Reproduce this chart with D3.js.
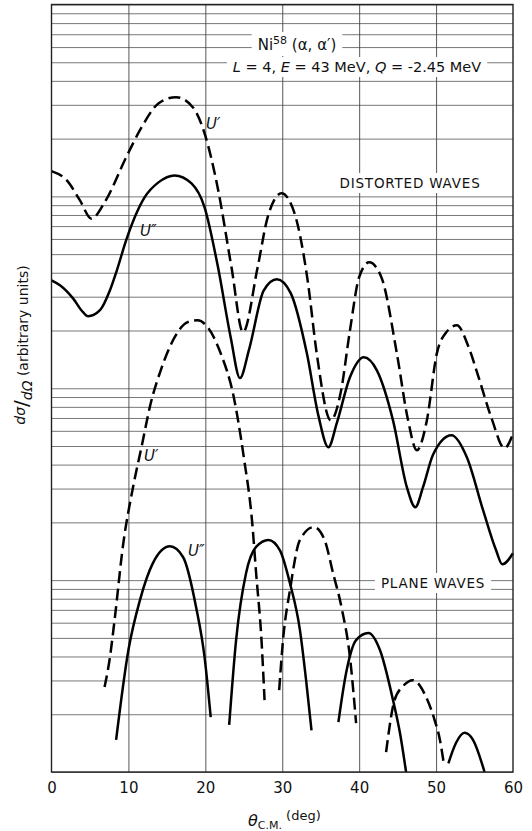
<!DOCTYPE html>
<html><head><meta charset="utf-8">
<script src="https://cdn.jsdelivr.net/npm/d3@7"></script>
<style>body{margin:0;background:#fff}</style>
</head><body><svg id="c" width="532" height="831"></svg>
<script>
// ---------- data (theta in deg, dσ/dΩ arbitrary units) ----------
const xTicks = [0, 10, 20, 30, 40, 50, 60];
const yDecades = [1, 10, 100, 1000];
const gridMultipliers = [1, 2, 3, 4, 5, 6, 7, 8, 9];

// Distorted waves, U' (dashed)
const dwUprime = [[0,1355],[2.0,1211],[3.7,953],[5.2,765],[6.9,930],[9.7,1596],[11.7,2287],[13.9,3050],[16.2,3290],[18.4,2908],[19.9,2130],[21.6,1114],[23.4,427],[24.9,196],[26.8,427],[28.1,778],[29.9,1037],[31.6,815],[33.3,365],[34.5,150],[36.3,68],[37.6,95],[38.8,200],[40.0,380],[41.3,453],[42.9,378],[44.9,152],[46.3,70],[47.5,47.5],[48.8,68],[50.1,152],[51.3,195],[52.7,213],[54.2,165],[55.5,115],[57.2,70],[58.9,48.7],[60,58]];
// Distorted waves, U'' (solid)
const dwUdouble = [[0,365],[1.1,344],[2.8,294],[4.1,249],[4.75,237],[6.3,255],[7.6,324],[8.5,412],[9.7,590],[12.1,988],[13.9,1183],[16.0,1286],[18.2,1169],[19.9,877],[21.6,437],[23.3,184],[24.5,113],[25.7,160],[27.6,324],[29.3,370],[31.1,313],[33.2,152],[34.7,72],[36.0,49.3],[37.1,66],[38.8,114],[40.6,145],[42.3,124],[44.4,68],[46.2,30.5],[47.3,24],[48.3,30.5],[49.6,45],[52.0,56.9],[54.0,43.7],[56.1,23.2],[57.8,14.3],[58.6,12.1],[60,13.8]];
// Plane waves, U' (dashed), separate lobes
const pwUprime1 = [[6.9,2.77],[7.6,3.97],[8.2,6.19],[9.3,15.2],[10.6,30.5],[11.7,49.3],[12.9,83.5],[14.2,124],[16.0,184],[17.7,221],[19.0,226],[20.3,208],[22.0,152],[23.7,89.8],[25.0,43.7],[26.1,19.8],[26.6,10.9],[27.3,4.87],[27.7,2.37]];
const pwUprime2 = [[29.6,2.67],[30.1,4.87],[31.0,8.87],[32.3,16.2],[34.1,18.9],[35.5,16.2],[36.6,10.9],[37.7,7.23],[38.8,3.97],[39.6,1.8]];
const pwUprime3 = [[43.5,1.27],[44.6,2.37],[45.7,2.8],[47.0,3.01],[48.7,2.46],[49.8,1.87],[50.5,1.47],[51.0,1.11]];
// Plane waves, U'' (solid), separate lobes
const pwUdouble1 = [[8.4,1.47],[10.0,4.32],[11.5,7.87],[13.2,12.3],[15.4,15.0],[17.1,13.2],[18.8,7.23],[19.9,3.97],[20.7,1.93]];
const pwUdouble2 = [[23.1,1.76],[24.0,4.87],[25.3,10.9],[26.6,14.9],[28.2,16.2],[29.7,14.3],[31.0,9.64],[32.3,5.49],[33.1,3.01],[33.8,1.65]];
const pwUdouble3 = [[37.3,1.82],[38.3,3.28],[39.6,4.87],[41.2,5.3],[42.7,4.32],[44.4,2.37],[45.3,1.6],[46.1,1.0]];
const pwUdouble4 = [[51.6,1.11],[52.6,1.42],[53.7,1.6],[54.8,1.47],[56.3,1.0]];

// ---------- layout ----------
const svg = d3.select("#c");
const L = 51.5, R = 513, T = 4.5, B = 772;
const x = d3.scaleLinear().domain([0, 60]).range([L, R]);
const y = d3.scaleLog().domain([1, 10000]).range([B, T]);
const FONT = "'DejaVu Sans', 'Liberation Sans', sans-serif";

// grid
const hVals = [];
yDecades.forEach(d => gridMultipliers.forEach(m => hVals.push(d * m)));
hVals.push(10000);
svg.append("g").attr("transform", `translate(${L},0)`)
  .call(d3.axisLeft(y).tickValues(hVals).tickSize(-(R - L)).tickFormat(""))
  .call(g => g.select(".domain").remove())
  .call(g => g.selectAll("line").attr("stroke", "#555").attr("stroke-width", 0.8));
svg.append("g").attr("transform", `translate(0,${T})`)
  .call(d3.axisBottom(x).tickValues(xTicks.slice(1, -1)).tickSize(B - T).tickFormat(""))
  .call(g => g.select(".domain").remove())
  .call(g => g.selectAll("line").attr("stroke", "#444").attr("stroke-width", 0.9));

// labels with white background
function bgLabel(sel, padX = 6) {
  const bb = sel.node().getBBox();
  const r = document.createElementNS("http://www.w3.org/2000/svg", "rect");
  sel.node().parentNode.insertBefore(r, sel.node());
  d3.select(r).attr("x", bb.x - padX).attr("y", bb.y - 2).attr("width", bb.width + 2 * padX).attr("height", bb.height + 4).attr("fill", "#fff");
}
const lab = svg.append("g").attr("font-family", FONT).attr("fill", "#111");

const t1 = lab.append("text").attr("x", 297).attr("y", 50).attr("text-anchor", "middle").attr("font-size", 15);
t1.append("tspan").text("Ni");
t1.append("tspan").attr("dy", -6).attr("font-size", 11).text("58");
t1.append("tspan").attr("dy", 6).text(" (α, α′)");
bgLabel(t1);

const t2 = lab.append("text").attr("x", 357).attr("y", 72).attr("text-anchor", "middle").attr("font-size", 14.5);
t2.append("tspan").attr("font-style", "italic").text("L");
t2.append("tspan").text(" = 4,  ");
t2.append("tspan").attr("font-style", "italic").text("E");
t2.append("tspan").text(" = 43 MeV,  ");
t2.append("tspan").attr("font-style", "italic").text("Q");
t2.append("tspan").text(" = -2.45 MeV");
bgLabel(t2);

const t3 = lab.append("text").attr("x", 410).attr("y", 188).attr("text-anchor", "middle").attr("font-size", 13.5).attr("letter-spacing", 0.8).text("DISTORTED  WAVES");
bgLabel(t3);
const t4 = lab.append("text").attr("x", 433).attr("y", 588).attr("text-anchor", "middle").attr("font-size", 13.5).attr("letter-spacing", 0.8).text("PLANE  WAVES");
bgLabel(t4);

// curves
const line = d3.line().x(d => x(d[0])).y(d => y(d[1])).curve(d3.curveMonotoneX);
const curves = [
  [dwUprime, true], [dwUdouble, false],
  [pwUprime1, true], [pwUprime2, true], [pwUprime3, true],
  [pwUdouble1, false], [pwUdouble2, false], [pwUdouble3, false], [pwUdouble4, false]
];
const cg = svg.append("g").attr("fill", "none").attr("stroke", "#000").attr("stroke-width", 2.5).attr("stroke-linecap", "butt");
curves.forEach(([data, dashed]) => {
  cg.append("path").datum(data).attr("d", line).attr("stroke-dasharray", dashed ? "12,5.5" : null);
});

// border
svg.append("rect").attr("x", L).attr("y", T).attr("width", R - L).attr("height", B - T)
  .attr("fill", "none").attr("stroke", "#222").attr("stroke-width", 1.4);

// curve labels
const ul = svg.append("g").attr("font-family", FONT).attr("font-style", "italic").attr("font-size", 15).attr("fill", "#111");
ul.append("text").attr("x", 206).attr("y", 129).text("U′");
ul.append("text").attr("x", 140).attr("y", 236).text("U″");
ul.append("text").attr("x", 144).attr("y", 461).text("U′");
ul.append("text").attr("x", 188).attr("y", 556).text("U″");

// x axis labels
svg.append("g").attr("transform", `translate(0,${B})`)
  .call(d3.axisBottom(x).tickValues(xTicks).tickSize(0).tickPadding(10).tickFormat(d3.format("d")))
  .call(g => g.select(".domain").remove())
  .call(g => g.selectAll("text").attr("font-family", FONT).attr("font-size", 15).attr("fill", "#111"));

const xt = svg.append("text").attr("x", 248).attr("y", 826).attr("font-family", FONT).attr("font-size", 16).attr("fill", "#111");
xt.append("tspan").attr("font-style", "italic").text("θ");
xt.append("tspan").attr("dy", 3).attr("font-size", 11).text("C.M.");
xt.append("tspan").attr("dy", -9).attr("font-size", 13).text(" (deg)");

// y axis label
const yt = svg.append("text").attr("transform", "translate(28,345) rotate(-90)").attr("text-anchor", "middle")
  .attr("font-family", FONT).attr("font-size", 14).attr("fill", "#111");
yt.append("tspan").attr("dy", -3).attr("font-style", "italic").text("dσ");
yt.append("tspan").attr("dy", 3).attr("font-size", 20).text("/");
yt.append("tspan").attr("dy", 4).attr("font-style", "italic").text("dΩ");
yt.append("tspan").attr("dy", -4).text(" (arbitrary units)");
</script></body></html>
